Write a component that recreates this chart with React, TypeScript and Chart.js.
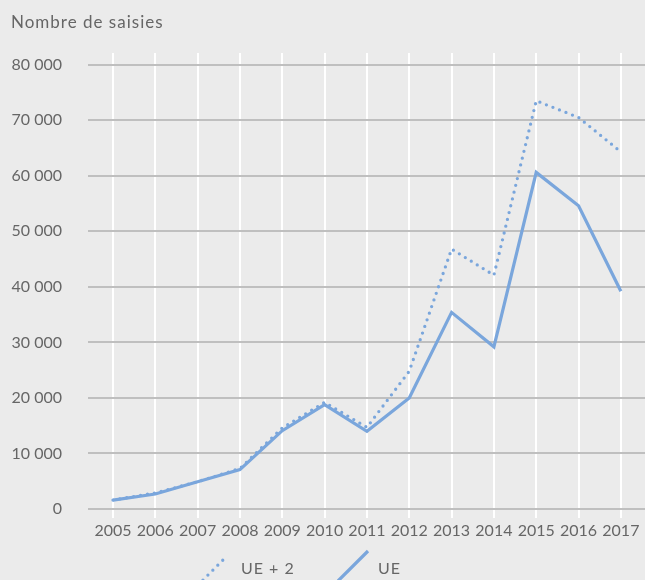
import { useEffect, useRef } from 'react';
import { Chart, registerables } from 'chart.js';

Chart.register(...registerables);

const years = [2005, 2006, 2007, 2008, 2009, 2010, 2011, 2012, 2013, 2014, 2015, 2016, 2017];
const ueplus2 = [1600, 2900, 4900, 7300, 14600, 19200, 14700, 24800, 46800, 42100, 73500, 70500, 64300];
const ue = [1600, 2700, 4900, 7100, 14100, 18800, 14000, 20000, 35400, 29200, 60600, 54600, 39200];
const yTicks = [0, 10000, 20000, 30000, 40000, 50000, 60000, 70000, 80000];
const seriesLabels = ['UE + 2', 'UE'];
const titleText = 'Nombre de saisies';

const FONT = 'Lato';
const TEXT = '#666666';
const BLUE = '#7aa6dc';

const fmt = (v: number) => String(v).replace(/\B(?=(\d{3})+(?!\d))/g, ' ');

export default function App() {
  const ref = useRef<HTMLCanvasElement | null>(null);
  useEffect(() => {
    document.body.style.margin = '0';
    const canvas = ref.current;
    if (!canvas) return;

    const bg = {
      id: 'bg',
      beforeDraw(chart: any) {
        const ctx = chart.ctx;
        ctx.save();
        ctx.fillStyle = '#ebebeb';
        ctx.fillRect(0, 0, chart.width, chart.height);
        ctx.restore();
      },
    };

    const deco = {
      id: 'deco',
      afterDraw(chart: any) {
        const ctx = chart.ctx;
        ctx.save();
        ctx.fillStyle = TEXT;
        ctx.font = `17px ${FONT}`;
        (ctx as any).letterSpacing = '1px';
        ctx.textBaseline = 'alphabetic';
        ctx.textAlign = 'left';
        ctx.fillText(titleText, 11, 27.5);

        // legend
        const items = [
          { x0: 198, y0: 585, x1: 227, y1: 556, tx: 241 },
          { x0: 338, y0: 581, x1: 368, y1: 551, tx: 378 },
        ];
        chart.data.datasets.forEach((ds: any, i: number) => {
          const it = items[i];
          ctx.save();
          ctx.strokeStyle = ds.borderColor;
          ctx.lineWidth = ds.borderWidth;
          ctx.lineCap = ds.borderCapStyle || 'butt';
          ctx.setLineDash(ds.borderDash || []);
          ctx.beginPath();
          ctx.moveTo(it.x0, it.y0);
          ctx.lineTo(it.x1, it.y1);
          ctx.stroke();
          ctx.restore();
          ctx.fillStyle = TEXT;
          ctx.font = `16px ${FONT}`;
          (ctx as any).letterSpacing = '1px';
          ctx.textBaseline = 'middle';
          ctx.fillText(ds.label, it.tx, 569);
        });
        ctx.restore();
      },
    };

    const chart = new Chart(canvas, {
      type: 'line',
      data: {
        datasets: [
          {
            label: seriesLabels[0],
            data: years.map((y, i) => ({ x: y, y: ueplus2[i] })),
            borderColor: BLUE,
            borderWidth: 3.3,
            borderDash: [0, 7],
            borderCapStyle: 'round',
            borderJoinStyle: 'round',
            pointRadius: 0,
            tension: 0,
            fill: false,
          },
          {
            label: seriesLabels[1],
            data: years.map((y, i) => ({ x: y, y: ue[i] })),
            borderColor: BLUE,
            borderWidth: 3.2,
            borderCapStyle: 'butt',
            borderJoinStyle: 'miter',
            pointRadius: 0,
            tension: 0,
            fill: false,
          },
        ],
      },
      options: {
        animation: false,
        responsive: false,
        layout: { padding: { top: 53, left: 0, right: 0, bottom: 0 } },
        plugins: {
          legend: { display: false },
          tooltip: { enabled: false },
          title: { display: false },
        },
        scales: {
          x: {
            type: 'linear',
            min: 2004.41,
            max: 2017.57,
            afterBuildTicks: (s: any) => {
              s.ticks = years.map((v) => ({ value: v }));
            },
            afterFit: (s: any) => {
              s.height = 71;
            },
            grid: {
              color: '#ffffff',
              lineWidth: 2,
              tickLength: 9,
              tickColor: '#ffffff',
              z: -1,
            },
            border: { display: false },
            ticks: {
              autoSkip: false,
              maxRotation: 0,
              padding: 3,
              color: TEXT,
              font: { family: FONT, size: 16 },
              callback: (v: any) => String(v),
            },
          },
          y: {
            type: 'linear',
            min: 0,
            max: 82100,
            afterBuildTicks: (s: any) => {
              s.ticks = yTicks.map((v) => ({ value: v }));
            },
            afterFit: (s: any) => {
              s.width = 88;
            },
            grid: {
              color: '#bfbfbf',
              lineWidth: 2,
              drawTicks: false,
            },
            border: { display: false },
            ticks: {
              padding: 26,
              color: TEXT,
              font: { family: FONT, size: 16 },
              callback: (v: any) => fmt(Number(v)),
            },
          },
        },
      },
      plugins: [bg, deco],
    } as any);
    return () => chart.destroy();
  }, []);
  return (
    <div style={{ width: 645, height: 580 }}>
      <canvas ref={ref} width={645} height={580} style={{ display: 'block' }} />
    </div>
  );
}
